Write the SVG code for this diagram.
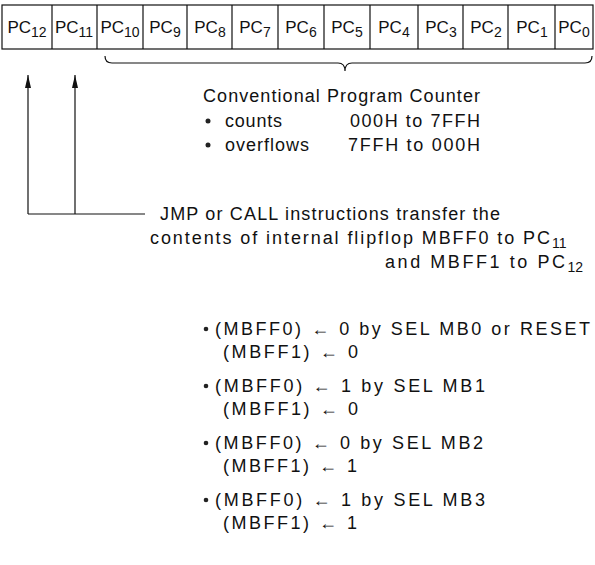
<svg xmlns="http://www.w3.org/2000/svg" width="595" height="565" viewBox="0 0 595 565">
<defs>
<style>
text{font-family:"Liberation Sans",Arial,sans-serif;font-size:18px;fill:#111}
.r{font-size:17px;text-anchor:middle}
.s{font-size:14px}
.ln{stroke:#111;stroke-width:1.2;fill:none}
.dot{fill:#222}
</style>
<marker id="ah" markerWidth="13" markerHeight="6" refX="13" refY="3" orient="auto" markerUnits="userSpaceOnUse" viewBox="0 0 13 6">
<path d="M0,0 L13,3 L0,6 Z" fill="#111"/>
</marker>
</defs>
<rect width="595" height="565" fill="#fff"/>
<g id="register">
<rect x="2" y="5" width="591" height="44" class="ln"/>
<path class="ln" d="M52,5V49M97,5V49M143,5V49M187,5V49M232,5V49M278,5V49M324,5V49M370,5V49M418,5V49M463,5V49M508,5V49M555,5V49"/>
<text x="27" y="33" class="r">PC<tspan class="s" dy="4">12</tspan></text>
<text x="74" y="33" class="r">PC<tspan class="s" dy="4">11</tspan></text>
<text x="120" y="33" class="r">PC<tspan class="s" dy="4">10</tspan></text>
<text x="165" y="33" class="r">PC<tspan class="s" dy="4">9</tspan></text>
<text x="210" y="33" class="r">PC<tspan class="s" dy="4">8</tspan></text>
<text x="255" y="33" class="r">PC<tspan class="s" dy="4">7</tspan></text>
<text x="301" y="33" class="r">PC<tspan class="s" dy="4">6</tspan></text>
<text x="347" y="33" class="r">PC<tspan class="s" dy="4">5</tspan></text>
<text x="394" y="33" class="r">PC<tspan class="s" dy="4">4</tspan></text>
<text x="441" y="33" class="r">PC<tspan class="s" dy="4">3</tspan></text>
<text x="486" y="33" class="r">PC<tspan class="s" dy="4">2</tspan></text>
<text x="532" y="33" class="r">PC<tspan class="s" dy="4">1</tspan></text>
<text x="574" y="33" class="r">PC<tspan class="s" dy="4">0</tspan></text>
</g>
<g id="brace">
<path class="ln" d="M105,56 Q105,63 112,63 H338 Q345,63 345,71 Q345,63 352,63 H585 Q592,63 592,56"/>
</g>
<g id="conventional">
<text x="203" y="102" textLength="277" lengthAdjust="spacing">Conventional  Program  Counter</text>
<circle cx="208" cy="121" r="2.5" class="dot"/>
<text x="225" y="127" textLength="57" lengthAdjust="spacing">counts</text>
<text x="350" y="127" textLength="130" lengthAdjust="spacing">000H to 7FFH</text>
<circle cx="208" cy="145" r="2.5" class="dot"/>
<text x="225" y="151" textLength="84" lengthAdjust="spacing">overflows</text>
<text x="348" y="151" textLength="132" lengthAdjust="spacing">7FFH to 000H</text>
</g>
<g id="connectors">
<path class="ln" d="M28,214V75" marker-end="url(#ah)"/>
<path class="ln" d="M75,214V75" marker-end="url(#ah)"/>
<path class="ln" d="M28,214H145"/>
</g>
<g id="transfer">
<text x="160" y="220" textLength="340" lengthAdjust="spacing">JMP or CALL instructions transfer the</text>
<text x="150" y="244"><tspan textLength="400" lengthAdjust="spacing">contents of internal flipflop MBFF0 to PC</tspan><tspan class="s" dy="4">11</tspan></text>
<text x="385" y="268"><tspan textLength="180" lengthAdjust="spacing">and MBFF1 to PC</tspan><tspan class="s" dy="4">12</tspan></text>
</g>
<g id="selections">
<circle cx="206" cy="329" r="2.3" class="dot"/>
<text x="215" y="335" textLength="375" lengthAdjust="spacing">(MBFF0)  ←  0 by SEL MB0 or RESET</text>
<text x="223" y="358" textLength="135" lengthAdjust="spacing">(MBFF1)  ←  0</text>
<circle cx="206" cy="386" r="2.3" class="dot"/>
<text x="215" y="392" textLength="270" lengthAdjust="spacing">(MBFF0)  ←  1 by SEL MB1</text>
<text x="223" y="415" textLength="135" lengthAdjust="spacing">(MBFF1)  ←  0</text>
<circle cx="206" cy="443" r="2.3" class="dot"/>
<text x="215" y="449" textLength="268" lengthAdjust="spacing">(MBFF0)  ←  0 by SEL MB2</text>
<text x="223" y="472" textLength="134" lengthAdjust="spacing">(MBFF1)  ←  1</text>
<circle cx="206" cy="500" r="2.3" class="dot"/>
<text x="215" y="506" textLength="270" lengthAdjust="spacing">(MBFF0)  ←  1 by SEL MB3</text>
<text x="223" y="529" textLength="134" lengthAdjust="spacing">(MBFF1)  ←  1</text>
</g>
</svg>
